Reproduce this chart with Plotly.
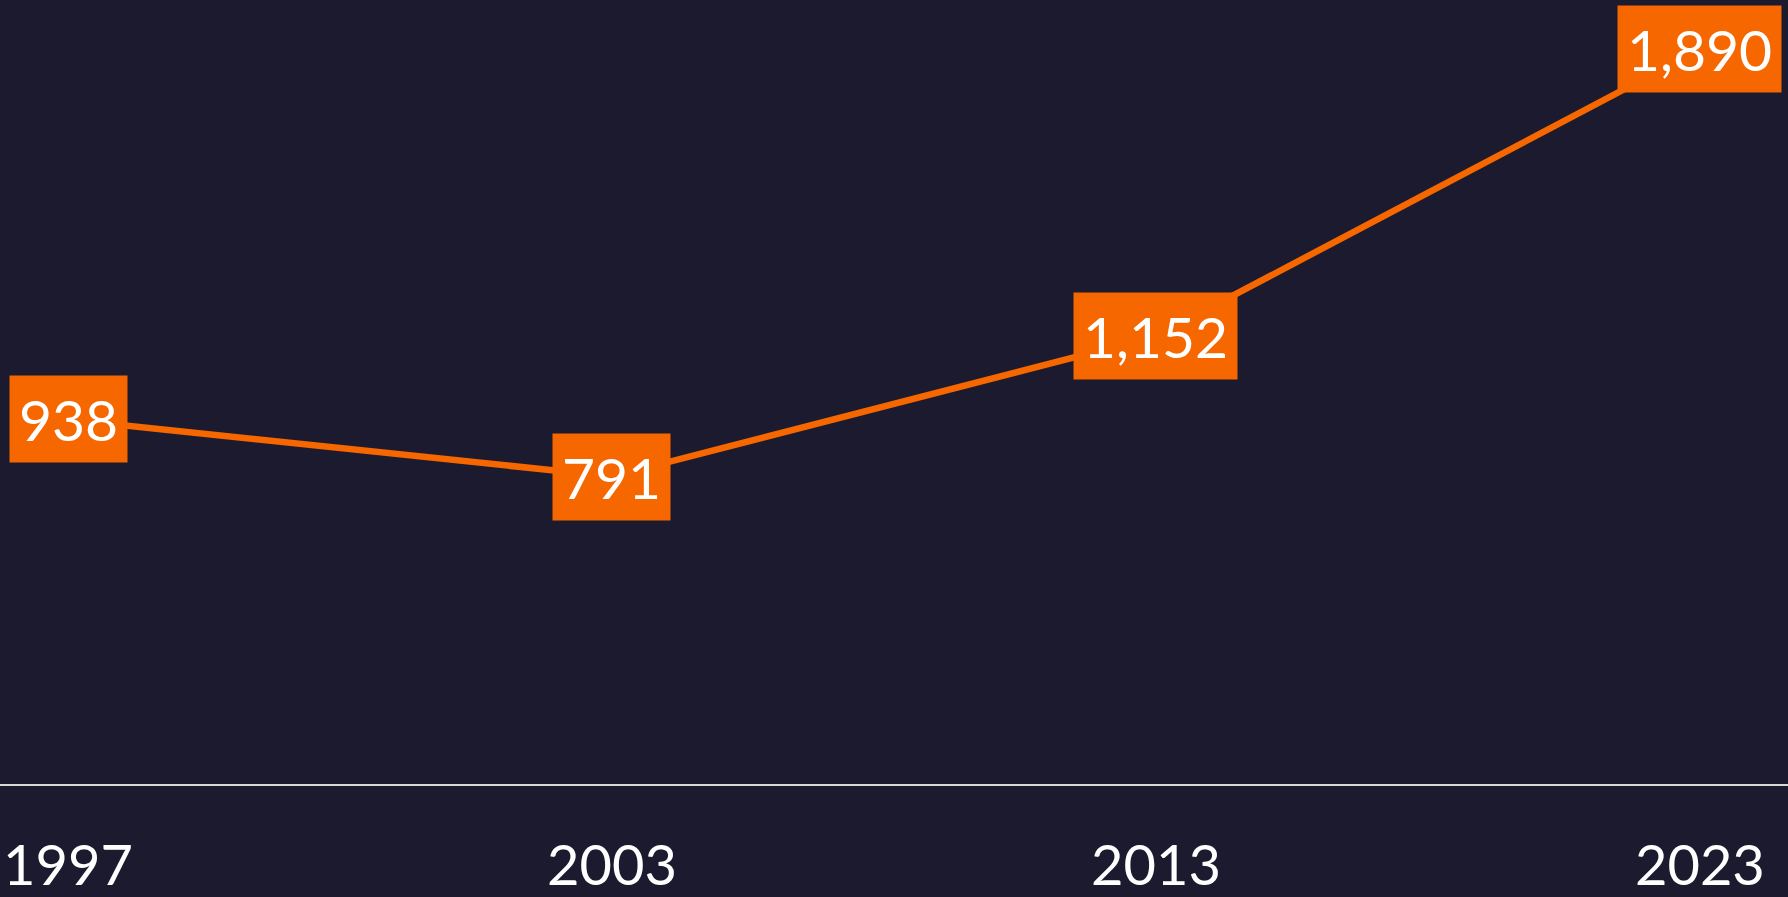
import plotly.graph_objects as go

# Datos
anios = ["1997", "2003", "2013", "2023"]
valores = [938, 791, 1152, 1890]
etiquetas = ["938", "791", "1,152", "1,890"]

FONDO = "#1c1a2e"
NARANJA = "#f66700"
FUENTE = "Lato, Calibri, sans-serif"

fig = go.Figure()

fig.add_trace(go.Scatter(
    x=anios,
    y=valores,
    mode="lines",
    line=dict(color=NARANJA, width=6.5),
    hoverinfo="skip",
    showlegend=False,
))

# Etiquetas con caja naranja sobre cada punto (x por indice de categoria)
for i, (valor, texto) in enumerate(zip(valores, etiquetas)):
    fig.add_annotation(
        x=i,
        y=valor,
        text=texto,
        showarrow=False,
        xanchor="center",
        yanchor="middle",
        font=dict(family=FUENTE, size=57, color="white"),
        bgcolor=NARANJA,
        borderpad=9,
    )

fig.update_xaxes(
    type="category",
    range=[-0.125, 3.162],
    showgrid=False,
    zeroline=False,
    showline=True,
    linecolor="#d9d9d9",
    linewidth=1.5,
    ticks="",
    ticklabelstandoff=32,
    tickfont=dict(family=FUENTE, size=56, color="white"),
)
fig.update_yaxes(
    range=[0, 2017],
    showgrid=False,
    zeroline=False,
    visible=False,
)

fig.update_layout(
    width=1788,
    height=897,
    margin=dict(l=0, r=0, t=0, b=110),
    paper_bgcolor=FONDO,
    plot_bgcolor=FONDO,
)

fig.write_html(
    "out.html",
    config={"displayModeBar": False},
    post_script="document.body.style.margin='0';",
)
